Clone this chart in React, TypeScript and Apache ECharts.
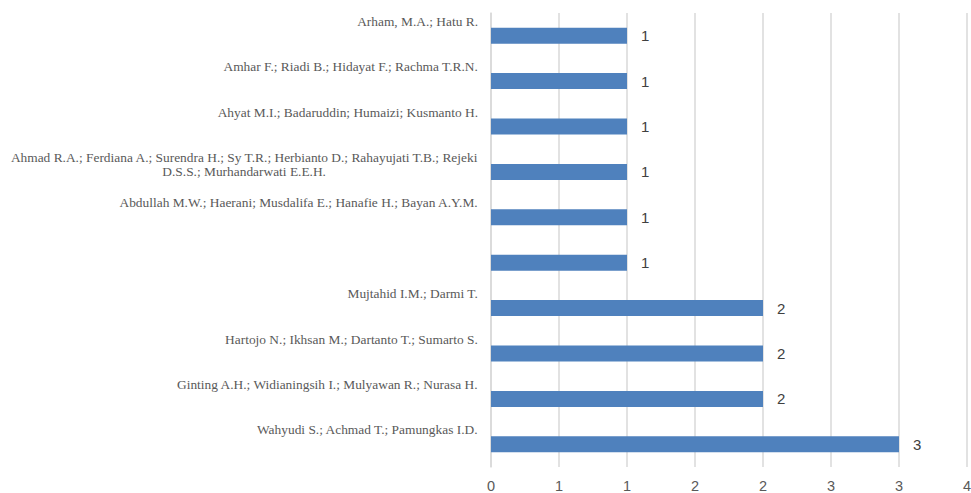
import React, { useEffect, useRef } from "react";
import * as echarts from "echarts";

const categories: string[] = [
  "Wahyudi S.; Achmad T.; Pamungkas I.D.",
  "Ginting A.H.; Widianingsih I.; Mulyawan R.; Nurasa H.",
  "Hartojo N.; Ikhsan M.; Dartanto T.; Sumarto S.",
  "Mujtahid I.M.; Darmi T.",
  "",
  "Abdullah M.W.; Haerani; Musdalifa E.; Hanafie H.; Bayan A.Y.M.",
  "Ahmad R.A.; Ferdiana A.; Surendra H.; Sy T.R.; Herbianto D.; Rahayujati T.B.; Rejeki\nD.S.S.; Murhandarwati E.E.H.",
  "Ahyat M.I.; Badaruddin; Humaizi; Kusmanto H.",
  "Amhar F.; Riadi B.; Hidayat F.; Rachma T.R.N.",
  "Arham, M.A.; Hatu R.",
];
const values: number[] = [3, 2, 2, 2, 1, 1, 1, 1, 1, 1];

export default function App() {
  const ref = useRef<HTMLDivElement>(null);
  useEffect(() => {
    if (!ref.current) return;
    const chart = echarts.init(ref.current, undefined, { renderer: "svg" });
    chart.setOption({
      animation: false,
      grid: {
        left: 491,
        right: 4,
        top: 13,
        bottom: 26,
        containLabel: false,
        outerBoundsMode: "none",
      },
      xAxis: {
        type: "value",
        min: 0,
        max: 3.5,
        interval: 0.5,
        axisLine: { show: false },
        axisTick: { show: false },
        splitLine: { show: true, lineStyle: { color: "#d9d9d9", width: 1.5 } },
        axisLabel: {
          margin: 12,
          color: "#595959",
          fontFamily: "Liberation Sans",
          fontSize: 14.5,
          lineHeight: 14,
          showMaxLabel: true,
          formatter: (v: number) => String(Math.round(v)),
        },
      },
      yAxis: {
        type: "category",
        data: categories,
        axisLine: { show: true, lineStyle: { color: "#d9d9d9", width: 1.5 } },
        axisTick: { show: false },
        axisLabel: {
          margin: 13,
          color: "#595959",
          fontFamily: "Liberation Serif",
          fontSize: 13.4,
          lineHeight: 14.5,
          interval: 0,
          formatter: (v: string) => {
            if (!v) return "";
            const lines = v.split("\n");
            const out = lines.map((l) => "{a|" + l + "}");
            while (out.length < 3) out.push("{a| }");
            return out.join("\n");
          },
          rich: {
            a: {
              align: "center",
              color: "#595959",
              fontFamily: "Liberation Serif",
              fontSize: 13.4,
              lineHeight: 14.5,
            },
          },
        },
      },
      series: [
        {
          type: "bar",
          data: values,
          barWidth: 16,
          itemStyle: { color: "#4f81bd" },
          label: {
            show: true,
            position: "right",
            distance: 14,
            color: "#404040",
            fontFamily: "Liberation Sans",
            fontSize: 15,
          },
        },
      ],
    });
    return () => chart.dispose();
  }, []);
  return <div ref={ref} style={{ width: 971, height: 493, position: "absolute", left: 0, top: 0 }} />;
}
